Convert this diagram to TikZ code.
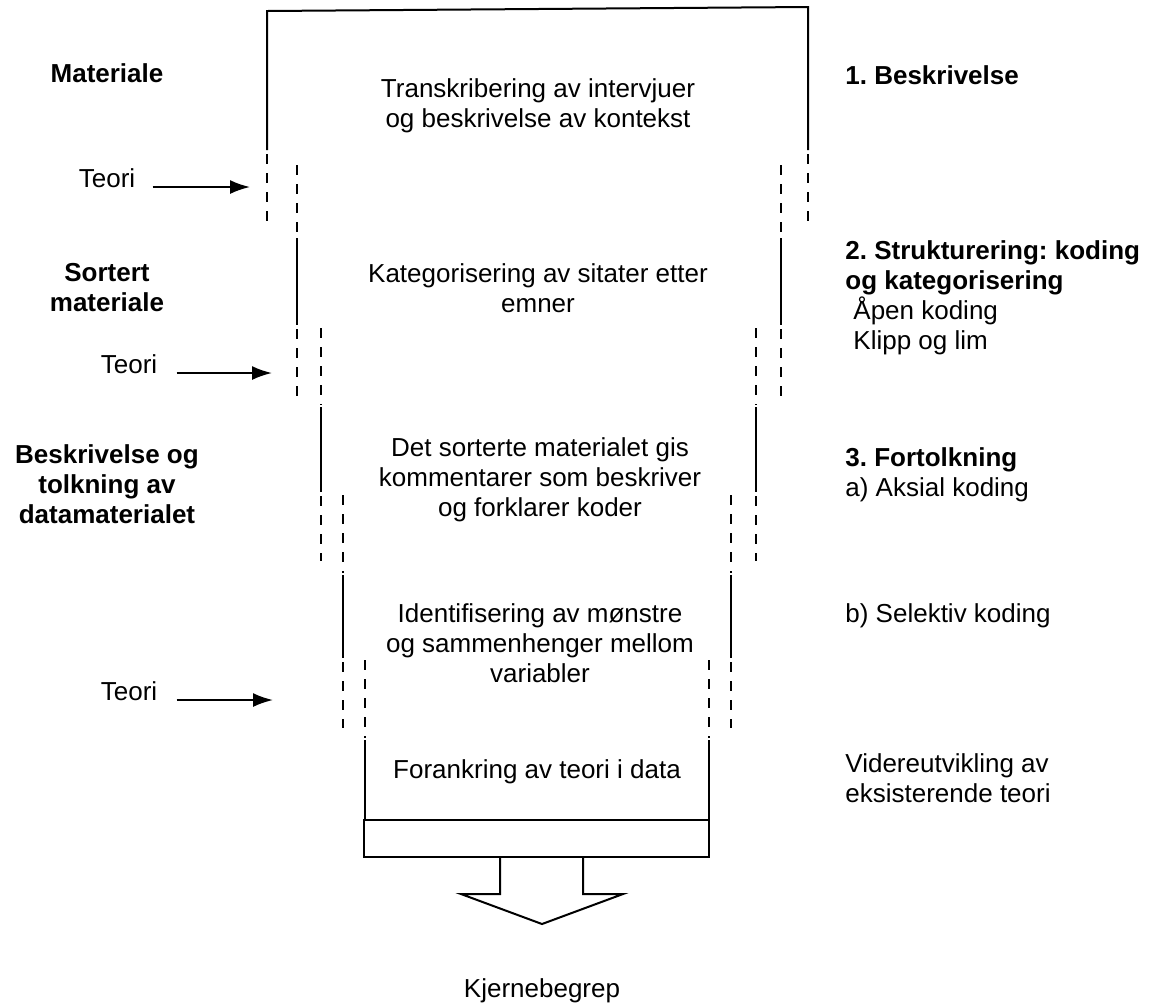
\documentclass[tikz,border=0pt]{standalone}
\usepackage{fontspec}
\setmainfont{Liberation Sans}
\frenchspacing
\usetikzlibrary{arrows.meta}
\tikzstyle{txt} = [inner sep=0pt, align=center, font=\fontsize{13}{15}\selectfont]
\tikzstyle{tittel} = [txt, font=\fontsize{13}{15}\selectfont\bfseries]
\tikzstyle{side} = [txt, align=left]
\tikzstyle{wall} = [line width=1pt]
\tikzstyle{gapline} = [line width=1pt, dash pattern=on 5pt off 4.5pt]

\begin{document}
\begin{tikzpicture}[x=0.5pt,y=-0.5pt]
        \useasboundingbox (0,0) rectangle (1160,1003);
        \draw[wall] (267,150) -- (267,11) -- (808,7) -- (808,150);
        \draw[gapline] (267,154) -- (267,225) (808,154) -- (808,225);
        \foreach \xl/\xr/\ya/\yb/\yc/\yd in {297/781/165/238/325/396, 321/756/328/407/492/561, 343/731/495/575/658/728}{
            \draw[gapline] (\xl,\ya) -- (\xl,\yb-2) (\xr,\ya) -- (\xr,\yb-2);
            \draw[wall] (\xl,\yb) -- (\xl,\yc) (\xr,\yb) -- (\xr,\yc);
            \draw[gapline] (\xl,\yc+4) -- (\xl,\yd) (\xr,\yc+4) -- (\xr,\yd);
        }
        \draw[gapline] (365,660) -- (365,738) (709,660) -- (709,738);
        \draw[wall] (365,740) -- (365,820) (709,740) -- (709,820);
        \node[draw, line width=1pt, inner sep=0pt, minimum width=172.5pt, minimum height=18.5pt] (bunn) at (536.5,838.5) {};
        \draw[wall, line join=miter] (500,857) -- (500,894) -- (461,894) -- (542,924) -- (623,894) -- (583,894) -- (583,857);

        \node[txt] (trans) at (538,106) {Transkribering av intervjuer\\og beskrivelse av kontekst};
        \node[txt] (kat) at (538,288) {Kategorisering av sitater etter\\emner};
        \node[txt] (sort) at (540,480) {Det sorterte materialet gis\\kommentarer som beskriver\\og forklarer koder};
        \node[txt] (ident) at (540,643) {Identifisering av mønstre\\og sammenhenger mellom\\variabler};
        \node[txt, anchor=base] (forank) at (537,778) {Forankring av teori i data};
        \node[txt, anchor=base] (kjerne) at (542,997) {Kjernebegrep};

        \node[tittel, anchor=base] (mat) at (107,82) {Materiale};
        \node[txt, anchor=base] (teori1) at (107,187) {Teori};
        \node[tittel] (sortmat) at (107,288) {Sortert\\materiale};
        \node[txt, anchor=base] (teori2) at (129,373) {Teori};
        \node[tittel] (beskr) at (107,484) {Beskrivelse og\\tolkning av\\datamaterialet};
        \node[txt, anchor=base] (teori3) at (129,700) {Teori};

        \node[tittel, anchor=base west] (trinn1) at (845,84) {1. Beskrivelse};
        \node[side, anchor=west] (trinn2) at (845,298) {\textbf{2. Strukturering: koding}\\\textbf{og kategorisering}\\\hspace*{4pt}Åpen koding\\\hspace*{4pt}Klipp og lim};
        \node[side, anchor=west] (trinn3) at (845,475) {\textbf{3. Fortolkning}\\a) Aksial koding};
        \node[txt, anchor=base west] (selekt) at (845,622) {b) Selektiv koding};
        \node[side, anchor=west] (videre) at (845,778) {Videreutvikling av\\eksisterende teori};

        \coordinate (inn1) at (250,187);
        \coordinate (inn2) at (272,373);
        \coordinate (inn3) at (273,700);
        \begin{scope}[line width=1pt, -{Latex[length=10pt,width=7pt]}]
            \draw ([xshift=8.5pt]teori1.base east) -- (inn1);
            \draw ([xshift=9.5pt]teori2.base east) -- (inn2);
            \draw ([xshift=9.5pt]teori3.base east) -- (inn3);
        \end{scope}
    \end{tikzpicture}
\end{document}
